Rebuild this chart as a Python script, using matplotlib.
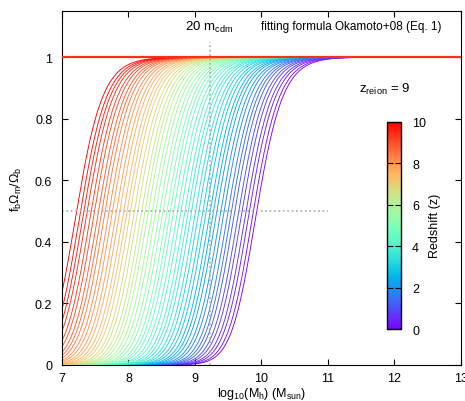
import numpy as np
import matplotlib
matplotlib.use("Agg")
import matplotlib.pyplot as plt
from matplotlib.cm import ScalarMappable
from matplotlib.colors import Normalize

plt.rcParams['font.family'] = ['Liberation Sans', 'DejaVu Sans']
plt.rcParams['mathtext.fontset'] = 'custom'
plt.rcParams['mathtext.rm'] = 'Liberation Sans'
plt.rcParams['mathtext.it'] = 'Liberation Sans:italic'
plt.rcParams['font.size'] = 9

# redshifts of the plotted curves
redshifts = [0.0, 0.2, 0.4, 0.6, 0.8, 1.0, 1.2, 1.4, 1.6, 1.8,
             2.0, 2.2, 2.4, 2.6, 2.8, 3.0, 3.2, 3.4, 3.6, 3.8,
             4.0, 4.2, 4.4, 4.6, 4.8, 5.0, 5.2, 5.4, 5.6, 5.8,
             6.0, 6.2, 6.4, 6.6, 6.8, 7.0, 7.2, 7.4, 7.6, 7.8,
             8.0, 8.2, 8.4, 8.6, 8.8, 9.0, 9.2, 9.4, 9.6, 9.8, 10.0]
# log10 characteristic mass (f_b = 0.5)
log_mc = [9.93, 9.88, 9.82, 9.77, 9.71, 9.66, 9.60, 9.55, 9.50, 9.44,
          9.39, 9.33, 9.28, 9.23, 9.17, 9.12, 9.06, 9.01, 8.95, 8.90,
          8.85, 8.79, 8.74, 8.68, 8.63, 8.58, 8.52, 8.47, 8.41, 8.36,
          8.30, 8.25, 8.20, 8.14, 8.09, 8.03, 7.98, 7.93, 7.87, 7.82,
          7.76, 7.71, 7.65, 7.60, 7.55, 7.49, 7.44, 7.38, 7.33, 7.28, 7.22]
alpha = 2.0
log_mcdm20 = 9.22
cbar_ticks = [0, 2, 4, 6, 8, 10]

logm = np.linspace(7, 13, 600)


def okamoto(logm, logmc, a=alpha):
    # Okamoto+08 eq. 1, normalised to the cosmic fraction
    return (1 + (2 ** (a / 3) - 1) * 10 ** (a * (logmc - logm))) ** (-3 / a)


fig = plt.figure(figsize=(4.65, 4.02), dpi=100)
ax = fig.add_axes([0.1333, 0.0896, 0.8577, 0.8804])

cmap = plt.get_cmap('rainbow')
norm = Normalize(0, 10)
for z, lm in zip(redshifts, log_mc):
    ax.plot(logm, okamoto(logm, lm), color=cmap(norm(z)), lw=0.65)

ax.axhline(1.0, color='#f0321e', lw=1.6, zorder=5)
ax.plot([log_mcdm20, log_mcdm20], [0, 1.05], ls=':', color='#a8a8a8', lw=1.2)
ax.plot([7, 11], [0.5, 0.5], ls=':', color='#a8a8a8', lw=1.2)

ax.text(log_mcdm20, 1.1, r'20 m$_{\mathrm{cdm}}$', ha='center', va='center',
        fontsize=9.5)
ax.text(11.35, 1.1, 'fitting formula Okamoto+08 (Eq. 1)', ha='center',
        va='center', fontsize=8.5)
ax.text(11.86, 0.9, r'z$_{\mathrm{reion}}$ = 9', ha='center', va='center',
        fontsize=9.5)

ax.set_xlim(7, 13)
ax.set_ylim(0, 1.15)
ax.set_xticks([7, 8, 9, 10, 11, 12, 13])
ax.set_xticklabels(['7', '8', '9', '10', '11', '12', '13'])
ax.set_yticks([0, 0.2, 0.4, 0.6, 0.8, 1.0])
ax.set_yticklabels(['0', '0.2', '0.4', '0.6', '0.8', '1'])
ax.tick_params(direction='in', length=4, top=True, right=True)
ax.tick_params(axis='x', pad=5)
ax.tick_params(axis='y', pad=7)
ax.set_xlabel(r'log$_{10}$(M$_{\mathrm{h}}$) (M$_{\mathrm{sun}}$)', labelpad=1)
ax.set_ylabel(r'f$_{\mathrm{b}}$Ω$_{\mathrm{m}}$/Ω$_{\mathrm{b}}$', labelpad=8)

cax = fig.add_axes([0.8316, 0.179, 0.0308, 0.516])
sm = ScalarMappable(norm=norm, cmap=cmap)
cb = fig.colorbar(sm, cax=cax, ticks=cbar_ticks)
cb.outline.set_linewidth(1.0)
cax.tick_params(direction='in', length=4, left=True, right=True, pad=8)
cb.set_label('Redshift (z)', labelpad=2)

fig.savefig('out.png', dpi=100)
